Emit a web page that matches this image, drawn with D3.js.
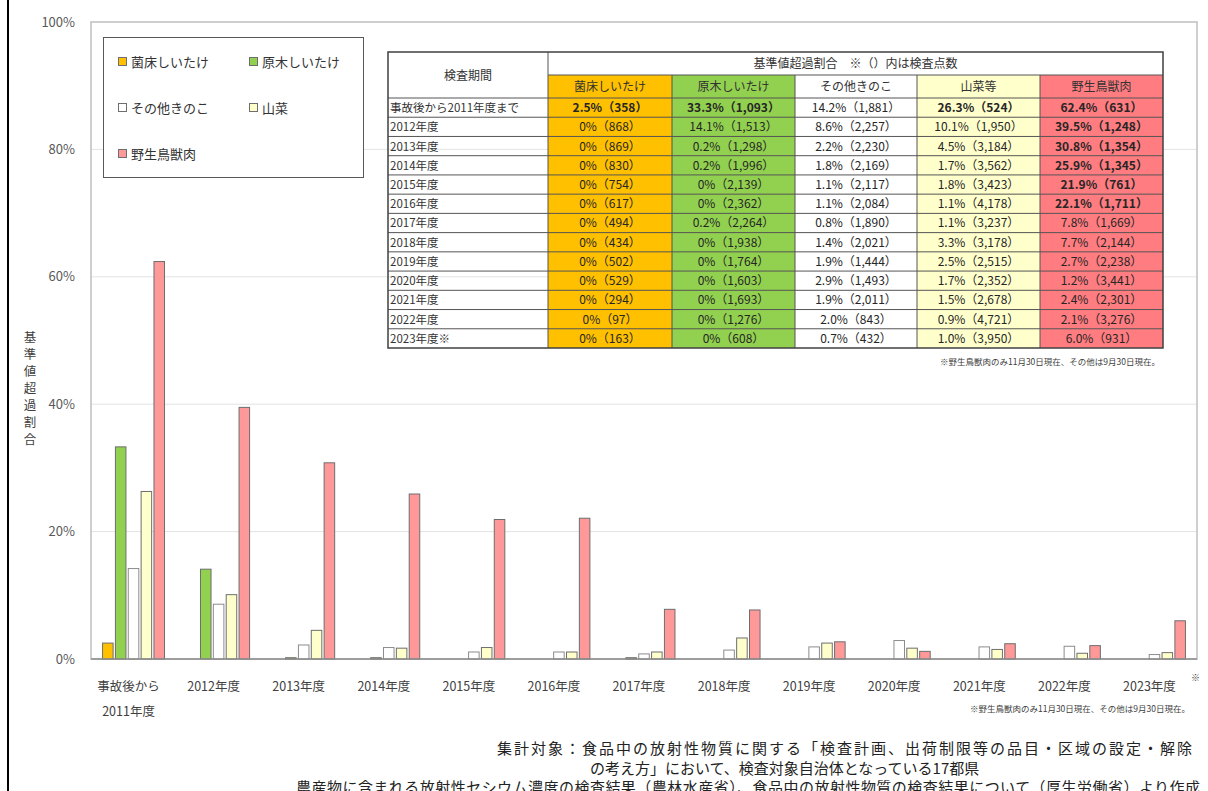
<!DOCTYPE html>
<html>
<head>
<meta charset="utf-8">
<script src="https://cdn.jsdelivr.net/npm/d3@7"></script>
<style>
  body { margin: 0; background: #fff; }
  svg { display: block; font-family: 'Noto Sans CJK JP', 'Noto Sans', sans-serif; }
</style>
</head>
<body>
<div class="wrapper"></div>
<script>
// categories (axis labels / table labels)
const axisLabels = ['事故後から|2011年度', '2012年度', '2013年度', '2014年度', '2015年度', '2016年度',
  '2017年度', '2018年度', '2019年度', '2020年度', '2021年度', '2022年度', '2023年度']
const tableLabels = ['事故後から2011年度まで', '2012年度', '2013年度', '2014年度', '2015年度', '2016年度',
  '2017年度', '2018年度', '2019年度', '2020年度', '2021年度', '2022年度', '2023年度※']

const seriesNames = ['菌床しいたけ', '原木しいたけ', 'その他きのこ', '山菜', '野生鳥獣肉']
const tableHeads = ['菌床しいたけ', '原木しいたけ', 'その他きのこ', '山菜等', '野生鳥獣肉']

// % over the standard value
const kinsho = [2.5, 0, 0, 0, 0, 0, 0, 0, 0, 0, 0, 0, 0]
const genboku = [33.3, 14.1, 0.2, 0.2, 0, 0, 0.2, 0, 0, 0, 0, 0, 0]
const sonota = [14.2, 8.6, 2.2, 1.8, 1.1, 1.1, 0.8, 1.4, 1.9, 2.9, 1.9, 2.0, 0.7]
const sansai = [26.3, 10.1, 4.5, 1.7, 1.8, 1.1, 1.1, 3.3, 2.5, 1.7, 1.5, 0.9, 1.0]
const yasei = [62.4, 39.5, 30.8, 25.9, 21.9, 22.1, 7.8, 7.7, 2.7, 1.2, 2.4, 2.1, 6.0]

// number of samples tested
const kinshoN = [358, 868, 869, 830, 754, 617, 494, 434, 502, 529, 294, 97, 163]
const genbokuN = [1093, 1513, 1298, 1996, 2139, 2362, 2264, 1938, 1764, 1603, 1693, 1276, 608]
const sonotaN = [1881, 2257, 2230, 2169, 2117, 2084, 1890, 2021, 1444, 1493, 2011, 843, 432]
const sansaiN = [524, 1950, 3184, 3562, 3423, 4178, 3237, 3178, 2515, 2352, 2678, 4721, 3950]
const yaseiN = [631, 1248, 1354, 1345, 761, 1711, 1669, 2144, 2238, 3441, 2301, 3276, 931]

const yTicks = [0, 20, 40, 60, 80, 100]

const values = [kinsho, genboku, sonota, sansai, yasei]
const counts = [kinshoN, genbokuN, sonotaN, sansaiN, yaseiN]
const barColors = ['#ffc000', '#92d050', '#ffffff', '#ffffcc', '#ff9999']
const cellColors = ['#ffc000', '#92d050', '#ffffff', '#ffffcc', '#ff7c80']

const width = 1208, height = 791
const plot = { left: 91, right: 1197, top: 22, bottom: 659 }

const svg = d3.select('.wrapper')
  .append('svg')
  .attr('width', width)
  .attr('height', height)

// left frame line
svg.append('line')
  .attr('x1', 8).attr('x2', 8).attr('y1', 0).attr('y2', height)
  .attr('stroke', '#000').attr('stroke-width', 2)

const x0 = d3.scaleBand()
  .domain(axisLabels)
  .range([plot.left, plot.right])

const x1 = d3.scaleBand()
  .domain(seriesNames)
  .range([0, x0.bandwidth()])
  .paddingInner(0.18)
  .paddingOuter(0.9)

const y = d3.scaleLinear()
  .domain([0, 100])
  .range([plot.bottom, plot.top])

// grid
svg.append('g')
  .selectAll('line')
  .data(yTicks.slice(1, -1))
  .enter().append('line')
  .attr('x1', plot.left).attr('x2', plot.right)
  .attr('y1', d => y(d)).attr('y2', d => y(d))
  .attr('stroke', '#e3e3e3')

// plot frame
svg.append('rect')
  .attr('x', plot.left).attr('y', plot.top)
  .attr('width', plot.right - plot.left).attr('height', plot.bottom - plot.top)
  .attr('fill', 'none').attr('stroke', '#bfbfbf').attr('stroke-width', 1.5)

// y axis
const yAxis = svg.append('g')
  .attr('transform', `translate(${plot.left}, 0)`)
  .call(d3.axisLeft(y).tickValues(yTicks).tickFormat(d => d + '%').tickSize(0).tickPadding(16))
yAxis.select('.domain').remove()
yAxis.selectAll('text')
  .attr('font-size', '13px')
  .attr('fill', '#595959')
  .attr('font-family', "'Noto Sans CJK JP', sans-serif")

// y title, written vertically
svg.append('text')
  .attr('x', 30)
  .attr('y', 331)
  .style('writing-mode', 'vertical-rl')
  .style('text-orientation', 'upright')
  .style('letter-spacing', '4.5px')
  .attr('font-size', '12.5px')
  .attr('fill', '#404040')
  .text('基準値超過割合')

// bars
const groups = svg.append('g')
  .selectAll('g')
  .data(axisLabels)
  .enter().append('g')
  .attr('transform', d => `translate(${x0(d)}, 0)`)

groups.selectAll('rect')
  .data((d, i) => seriesNames.map((s, k) => ({ s, k, v: values[k][i] })).filter(e => e.v > 0))
  .enter().append('rect')
  .attr('x', d => x1(d.s))
  .attr('y', d => y(d.v))
  .attr('width', x1.bandwidth())
  .attr('height', d => y(0) - y(d.v))
  .attr('fill', d => barColors[d.k])
  .attr('stroke', d => d.k === 2 ? '#8c8c8c' : '#6e6e6e')
  .attr('stroke-width', 1)

// baseline
svg.append('line')
  .attr('x1', plot.left).attr('x2', plot.right)
  .attr('y1', plot.bottom).attr('y2', plot.bottom)
  .attr('stroke', '#8c8c8c').attr('stroke-width', 1.5)

// x labels
const xl = svg.append('g')
  .selectAll('text')
  .data(axisLabels)
  .enter().append('text')
  .attr('x', d => x0(d) + x0.bandwidth() / 2 - 5)
  .attr('y', 691)
  .attr('text-anchor', 'middle')
  .attr('font-size', '12.5px')
  .attr('fill', '#404040')
xl.selectAll('tspan')
  .data(d => d.split('|'))
  .enter().append('tspan')
  .attr('x', function () { return d3.select(this.parentNode).attr('x') })
  .attr('dy', (d, i) => i === 0 ? 0 : 25)
  .text(d => d)

svg.append('text')
  .attr('x', 1191).attr('y', 681)
  .attr('font-size', '9px').attr('fill', '#404040')
  .text('※')

svg.append('text')
  .attr('x', 1190).attr('y', 712)
  .attr('text-anchor', 'end')
  .attr('font-size', '8.5px').attr('fill', '#404040')
  .text('※野生鳥獣肉のみ11月30日現在、その他は9月30日現在。')

// legend
const legend = svg.append('g')
legend.append('rect')
  .attr('x', 103.5).attr('y', 37.5).attr('width', 260).attr('height', 140)
  .attr('fill', '#fff').attr('stroke', '#595959')
const legendPos = [[118, 62], [249, 62], [118, 108], [249, 108], [118, 154]]
const li = legend.selectAll('g.item')
  .data(seriesNames)
  .enter().append('g')
  .attr('class', 'item')
  .attr('transform', (d, i) => `translate(${legendPos[i][0]}, ${legendPos[i][1]})`)
li.append('rect')
  .attr('x', 0.5).attr('y', -4.5).attr('width', 8).attr('height', 8)
  .attr('fill', (d, i) => barColors[i])
  .attr('stroke', '#6e6e6e')
li.append('text')
  .attr('x', 13).attr('y', 5)
  .attr('font-size', '13px').attr('fill', '#333')
  .text(d => d)

// table
const colEdges = [388, 548, 672, 795, 917, 1040, 1163]
const tableTop = 52, head1 = 75, head2 = 98, tableBottom = 348
const row = d3.scaleBand()
  .domain(tableLabels)
  .range([head2, tableBottom])

const table = svg.append('g').attr('font-size', '12px')

// header backgrounds
table.append('rect')
  .attr('x', colEdges[0]).attr('y', tableTop)
  .attr('width', colEdges[6] - colEdges[0]).attr('height', head2 - tableTop)
  .attr('fill', '#fff')
tableHeads.forEach((h, k) => {
  table.append('rect')
    .attr('x', colEdges[k + 1]).attr('y', head1)
    .attr('width', colEdges[k + 2] - colEdges[k + 1]).attr('height', head2 - head1)
    .attr('fill', cellColors[k])
  table.append('rect')
    .attr('x', colEdges[k + 1]).attr('y', head2)
    .attr('width', colEdges[k + 2] - colEdges[k + 1]).attr('height', tableBottom - head2)
    .attr('fill', cellColors[k])
  table.append('text')
    .attr('x', (colEdges[k + 1] + colEdges[k + 2]) / 2).attr('y', head1 + 16)
    .attr('text-anchor', 'middle').attr('fill', '#333')
    .text(h)
})
table.append('text')
  .attr('x', (colEdges[0] + colEdges[1]) / 2).attr('y', 80)
  .attr('text-anchor', 'middle').attr('fill', '#333')
  .text('検査期間')
table.append('text')
  .attr('x', (colEdges[1] + colEdges[6]) / 2).attr('y', tableTop + 16)
  .attr('text-anchor', 'middle').attr('fill', '#333')
  .text('基準値超過割合　※（）内は検査点数')

// rows
const fmtPct = v => v === 0 ? '0%' : v.toFixed(1) + '%'
const fmtN = d3.format(',')
const rows = table.selectAll('g.row')
  .data(tableLabels)
  .enter().append('g')
  .attr('class', 'row')
  .attr('transform', d => `translate(0, ${row(d)})`)
rows.append('text')
  .attr('x', colEdges[0] + 2).attr('y', row.bandwidth() / 2 + 4.5)
  .attr('fill', '#333').attr('font-size', '11.5px')
  .text(d => d)
rows.selectAll('text.val')
  .data((d, i) => values.map((s, k) => ({ k, v: s[i], n: counts[k][i], first: i === 0 })))
  .enter().append('text')
  .attr('class', 'val')
  .attr('x', d => (colEdges[d.k + 1] + colEdges[d.k + 2]) / 2)
  .attr('y', row.bandwidth() / 2 + 4.5)
  .attr('text-anchor', 'middle')
  .attr('fill', '#262626')
  .attr('font-weight', d => (d.v >= 20 || (d.first && d.k === 0)) ? 'bold' : 'normal')
  .text(d => `${fmtPct(d.v)}（${fmtN(d.n)}）`)

// table lines
table.append('g')
  .selectAll('line')
  .data(tableLabels)
  .enter().append('line')
  .attr('x1', colEdges[0]).attr('x2', colEdges[6])
  .attr('y1', d => row(d)).attr('y2', d => row(d))
  .attr('stroke', '#555')
table.append('line')
  .attr('x1', colEdges[1]).attr('x2', colEdges[6])
  .attr('y1', head1).attr('y2', head1)
  .attr('stroke', '#555')
table.append('g')
  .selectAll('line')
  .data(colEdges.slice(1, -1))
  .enter().append('line')
  .attr('x1', d => d).attr('x2', d => d)
  .attr('y1', (d, i) => i === 0 ? tableTop : head1).attr('y2', tableBottom)
  .attr('stroke', '#555')
table.append('rect')
  .attr('x', colEdges[0]).attr('y', tableTop)
  .attr('width', colEdges[6] - colEdges[0]).attr('height', tableBottom - tableTop)
  .attr('fill', 'none').attr('stroke', '#404040').attr('stroke-width', 1.5)

svg.append('text')
  .attr('x', 1160).attr('y', 365)
  .attr('text-anchor', 'end')
  .attr('font-size', '8.5px').attr('fill', '#404040')
  .text('※野生鳥獣肉のみ11月30日現在、その他は9月30日現在。')

// source notes
const notes = [
  { t: '集計対象：食品中の放射性物質に関する「検査計画、出荷制限等の品目・区域の設定・解除', x: 497, y: 754, len: 695 },
  { t: 'の考え方」において、検査対象自治体となっている17都県', x: 590, y: 774, len: 0 },
  { t: '農産物に含まれる放射性セシウム濃度の検査結果（農林水産省）、食品中の放射性物質の検査結果について（厚生労働省）より作成', x: 296, y: 793, len: 904 },
]
const nt = svg.append('g')
  .selectAll('text')
  .data(notes)
  .enter().append('text')
  .attr('x', d => d.x).attr('y', d => d.y)
  .attr('font-size', '15px').attr('fill', '#222')
  .text(d => d.t)
nt.filter(d => d.len > 0)
  .attr('textLength', d => d.len)
  .attr('lengthAdjust', 'spacing')
</script>
</body>
</html>
